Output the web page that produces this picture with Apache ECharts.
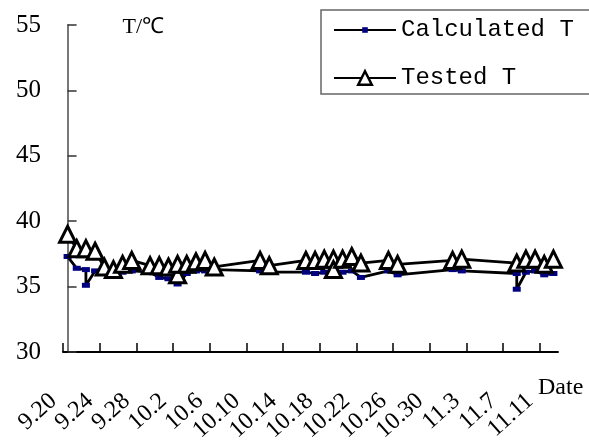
<!DOCTYPE html>
<html>
<head>
<meta charset="utf-8">
<script src="https://cdn.jsdelivr.net/npm/echarts@6/dist/echarts.min.js"></script>
<style>
html,body{margin:0;padding:0;background:#fff;}
#chart{width:589px;height:441px;}
</style>
</head>
<body>
<div id="chart"></div>
<script>
// ---- data ----
const tickLabels = ['9.20','9.24','9.28','10.2','10.6','10.10','10.14','10.18','10.22','10.26','10.30','11.3','11.7','11.11'];
const axisFirstDate = '9.20';
const axisLastDate = '11.12';
const yTicks = [30, 35, 40, 45, 50, 55];

const calcDates = ['9.20','9.21','9.22','9.22','9.23','9.24','9.25','9.26','9.27','9.29','9.30','10.1','10.2','10.3','10.4','10.5','10.6','10.11','10.12','10.16','10.17','10.18','10.19','10.20','10.21','10.22','10.25','10.26','11.1','11.2','11.8','11.8','11.9','11.10','11.11','11.12'];
const calcValues = [37.3,36.4,36.3,35.1,36.2,36.0,36.0,36.1,36.2,36.1,35.7,35.6,35.2,36.0,36.2,36.2,36.3,36.2,36.1,36.1,36.0,36.1,35.9,36.1,36.2,35.7,36.2,35.9,36.3,36.2,36.0,34.8,36.1,36.2,35.9,36.0];

const testDates = ['9.20','9.21','9.22','9.23','9.24','9.25','9.26','9.27','9.29','9.30','10.1','10.2','10.2','10.3','10.4','10.5','10.6','10.11','10.12','10.16','10.17','10.18','10.19','10.19','10.20','10.21','10.22','10.25','10.26','11.1','11.2','11.8','11.9','11.10','11.11','11.12'];
const testValues = [39.0,37.9,37.9,37.7,36.5,36.3,36.7,37.0,36.6,36.6,36.5,35.9,36.7,36.7,36.9,37.0,36.5,37.0,36.6,37.0,37.0,37.1,37.1,36.3,37.1,37.3,36.8,37.0,36.7,37.0,37.1,36.8,37.1,37.1,36.7,37.1];

const seriesNames = ['Calculated T', 'Tested T'];
const xName = 'Date';
const yName = 'T/\u2103';

// ---- helpers ----
function dayIndex(s) {
  const p = s.split('.').map(Number);
  return Math.round((Date.UTC(2000, p[0] - 1, p[1]) - Date.UTC(2000, 8, 20)) / 864e5);
}
const labelByDay = {};
tickLabels.forEach(s => { labelByDay[dayIndex(s)] = s; });
const tickVals = tickLabels.map(s => dayIndex(s) - 0.5);

const calcData = calcDates.map((d, i) => [dayIndex(d), calcValues[i]]);
const testData = testDates.map((d, i) => [dayIndex(d), testValues[i]]);

const chart = echarts.init(document.getElementById('chart'), null, {renderer: 'canvas'});
const serif = "'Liberation Serif', 'Times New Roman', serif";
const mono = "'Liberation Mono', 'Courier New', monospace";

chart.setOption({
  animation: false,
  backgroundColor: '#fff',
  grid: {left: 63, right: 31, top: 25, bottom: 89, containLabel: false, outerBoundsMode: 'none'},
  legend: [
    {
      data: [seriesNames[0]],
      left: 321, top: 10,
      orient: 'vertical',
      padding: [8, 40, 52, 12],
      borderColor: '#666', borderWidth: 1.5,
      itemWidth: 62, itemHeight: 7,
      textStyle: {fontFamily: mono, fontSize: 24, color: '#000'},
      itemStyle: {borderWidth: 0}
    },
    {
      data: [seriesNames[1]],
      left: 321, top: 66,
      orient: 'vertical',
      padding: [0, 0, 0, 12],
      itemWidth: 62, itemHeight: 17,
      textStyle: {fontFamily: mono, fontSize: 24, color: '#000'},
      itemStyle: {borderWidth: 2.5, borderColor: '#000', color: '#fff'}
    }
  ],
  xAxis: {
    type: 'value',
    min: dayIndex(axisFirstDate) - 0.5,
    max: dayIndex(axisLastDate) + 0.5,
    name: xName,
    nameLocation: 'end',
    nameGap: -20,
    nameMoveOverlap: false,
    nameTextStyle: {fontFamily: serif, fontSize: 24, color: '#000', align: 'left', verticalAlign: 'top', padding: [24, 0, 0, 0]},
    axisLine: {show: true, lineStyle: {color: '#000', width: 2}},
    axisTick: {show: true, inside: true, length: 9, customValues: tickVals, lineStyle: {color: '#000', width: 1.5}},
    axisLabel: {
      customValues: tickVals,
      showMinLabel: true, showMaxLabel: true, hideOverlap: false,
      rotate: 42, margin: 37,
      fontFamily: serif, fontSize: 24, color: '#000',
      formatter: v => '{t|' + (labelByDay[Math.round(v + 0.5)] || '') + '}{gap|}',
      rich: {
        t: {fontFamily: serif, fontSize: 24, color: '#000'},
        gap: {width: 13}
      }
    },
    splitLine: {show: false}
  },
  yAxis: {
    type: 'value',
    min: yTicks[0], max: yTicks[yTicks.length - 1], interval: 5,
    name: yName,
    nameLocation: 'end',
    nameGap: -2,
    nameMoveOverlap: false,
    nameTextStyle: {fontFamily: serif, fontSize: 22, color: '#000', align: 'left', verticalAlign: 'middle', padding: [0, 0, 0, 55]},
    axisLine: {show: true, lineStyle: {color: '#777', width: 2}},
    axisTick: {show: true, inside: true, length: 9, lineStyle: {color: '#333', width: 1.5}},
    axisLabel: {margin: 22, fontFamily: serif, fontSize: 25, color: '#000'},
    splitLine: {show: false}
  },
  series: [
    {
      name: seriesNames[0],
      type: 'line',
      data: calcData,
      symbol: 'rect',
      symbolSize: [8, 5],
      lineStyle: {color: '#000', width: 2.8},
      itemStyle: {color: '#000080', borderWidth: 0},
      z: 2
    },
    {
      name: seriesNames[1],
      type: 'line',
      data: testData,
      symbol: 'triangle',
      symbolSize: [16, 16],
      lineStyle: {color: '#000', width: 2.8},
      itemStyle: {color: '#fff', borderColor: '#000', borderWidth: 3},
      z: 3
    }
  ]
});
</script>
</body>
</html>
